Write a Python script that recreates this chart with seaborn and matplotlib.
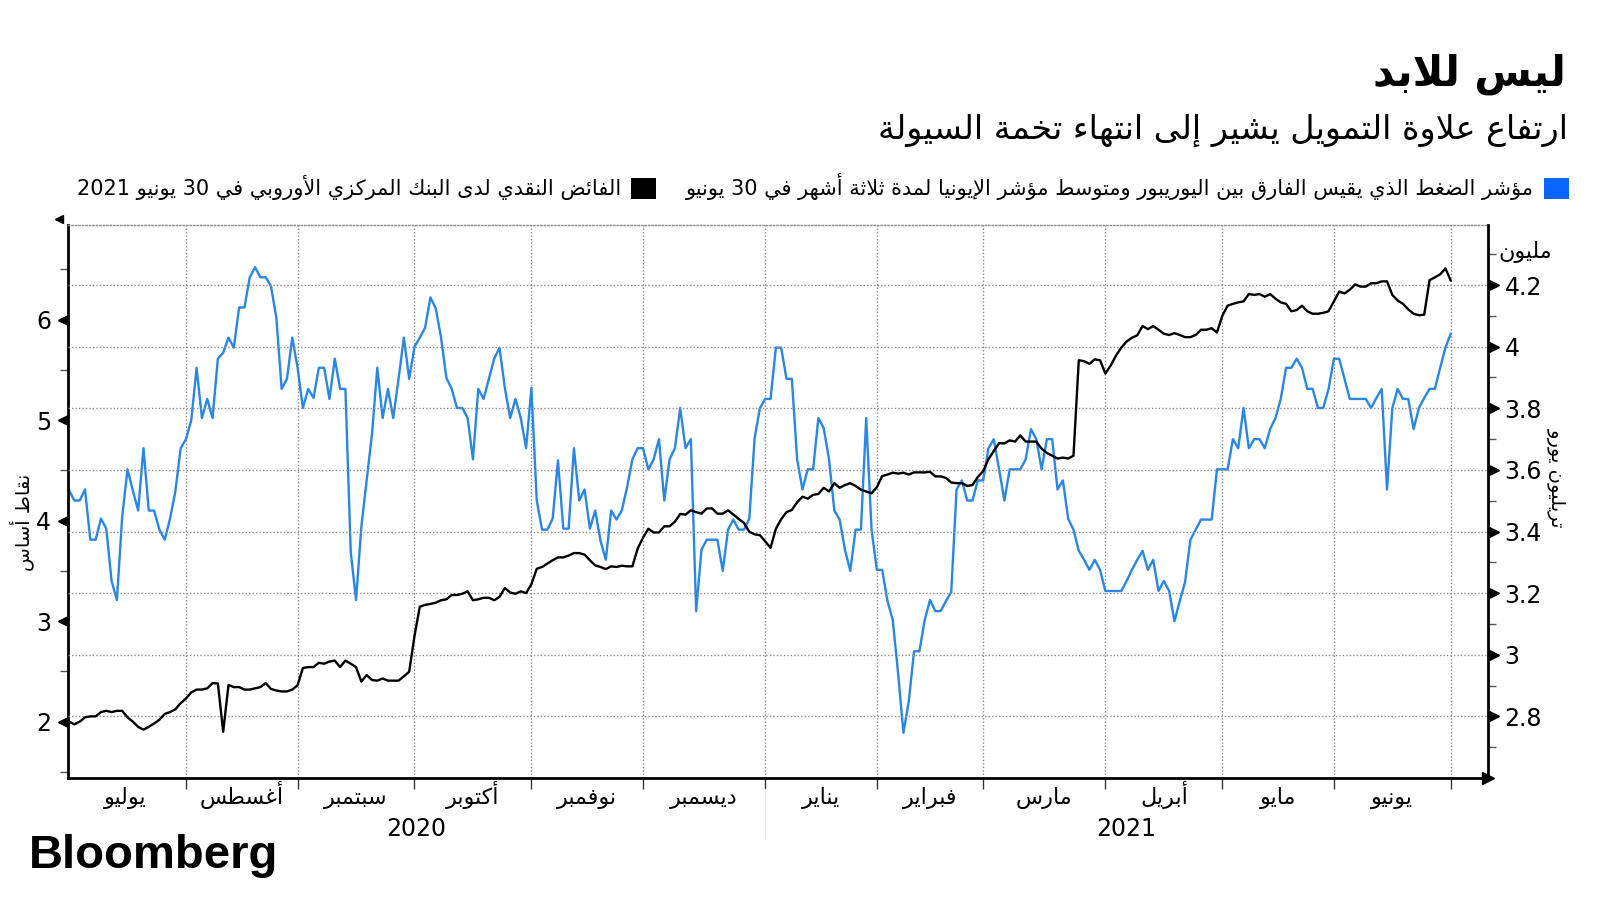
import re
import numpy as np
import pandas as pd
import matplotlib
matplotlib.use("Agg")
import matplotlib.pyplot as plt
import matplotlib.transforms as mtransforms
from matplotlib.patches import Patch
import seaborn as sns

sns.set_style("white")
plt.rcParams["font.family"] = ["DejaVu Sans"]
plt.rcParams["text.color"] = "black"
plt.rcParams["xtick.color"] = "black"
plt.rcParams["ytick.color"] = "black"

# ---------------- data (one value per business day, 2 Jul 2020 -> 1 Jul 2021) ----------------
first_day = "2020-07-01"
last_day = "2021-07-01"

# Euribor - 3m Eonia average spread, basis points (left axis)
spread_bp = [
    4.30, 4.20, 4.20, 4.31, 3.81, 3.81, 4.02, 3.92, 3.40, 3.21,
    4.04, 4.51, 4.30, 4.10, 4.72, 4.10, 4.10, 3.91, 3.81, 4.02,
    4.29, 4.72, 4.81, 5.00, 5.52, 5.02, 5.21, 5.02, 5.61, 5.67,
    5.82, 5.72, 6.12, 6.12, 6.42, 6.52, 6.42, 6.42, 6.33, 6.02,
    5.31, 5.41, 5.82, 5.52, 5.12, 5.31, 5.22, 5.52, 5.52, 5.21,
    5.61, 5.31, 5.31, 3.69, 3.21, 3.94, 4.40, 4.86, 5.52, 5.02,
    5.31, 5.02, 5.41, 5.82, 5.41, 5.73, 5.82, 5.92, 6.22, 6.11,
    5.82, 5.42, 5.31, 5.12, 5.12, 5.02, 4.61, 5.31, 5.21, 5.41,
    5.61, 5.72, 5.32, 5.02, 5.21, 5.02, 4.72, 5.32, 4.20, 3.91,
    3.91, 4.02, 4.60, 3.92, 3.92, 4.72, 4.20, 4.31, 3.92, 4.10,
    3.80, 3.61, 4.10, 4.01, 4.10, 4.33, 4.61, 4.72, 4.72, 4.51,
    4.61, 4.81, 4.20, 4.61, 4.72, 5.12, 4.72, 4.81, 3.10, 3.71,
    3.81, 3.81, 3.81, 3.50, 3.91, 4.01, 3.91, 3.91, 4.02, 4.82,
    5.12, 5.21, 5.21, 5.72, 5.72, 5.41, 5.41, 4.61, 4.31, 4.51,
    4.51, 5.02, 4.92, 4.61, 4.10, 4.01, 3.71, 3.50, 3.91, 3.91,
    5.02, 3.91, 3.51, 3.51, 3.20, 3.01, 2.48, 1.89, 2.20, 2.70,
    2.70, 3.01, 3.21, 3.10, 3.10, 3.20, 3.29, 4.31, 4.40, 4.20,
    4.20, 4.40, 4.40, 4.72, 4.81, 4.51, 4.20, 4.51, 4.51, 4.51,
    4.61, 4.91, 4.81, 4.51, 4.81, 4.81, 4.31, 4.40, 4.02, 3.91,
    3.70, 3.61, 3.51, 3.61, 3.51, 3.30, 3.30, 3.30, 3.30, 3.40,
    3.51, 3.61, 3.70, 3.51, 3.61, 3.30, 3.40, 3.30, 3.00, 3.20,
    3.39, 3.81, 3.91, 4.01, 4.01, 4.01, 4.51, 4.51, 4.51, 4.81,
    4.72, 5.12, 4.72, 4.81, 4.81, 4.72, 4.91, 5.02, 5.21, 5.52,
    5.52, 5.61, 5.52, 5.31, 5.31, 5.12, 5.12, 5.31, 5.61, 5.61,
    5.41, 5.21, 5.21, 5.21, 5.21, 5.12, 5.22, 5.31, 4.31, 5.12,
    5.31, 5.21, 5.21, 4.91, 5.12, 5.22, 5.31, 5.31, 5.52, 5.72, 5.86,
]

# ECB excess liquidity, trillion euros (right axis)
excess_liq = [
    2.783, 2.774, 2.783, 2.797, 2.800, 2.800, 2.814, 2.818, 2.814, 2.818,
    2.818, 2.797, 2.783, 2.766, 2.757, 2.766, 2.777, 2.789, 2.808, 2.814,
    2.823, 2.843, 2.858, 2.878, 2.887, 2.887, 2.891, 2.908, 2.907, 2.750,
    2.902, 2.895, 2.895, 2.887, 2.887, 2.891, 2.895, 2.908, 2.889, 2.884,
    2.881, 2.881, 2.887, 2.901, 2.957, 2.960, 2.960, 2.974, 2.971, 2.978,
    2.981, 2.960, 2.981, 2.971, 2.960, 2.913, 2.934, 2.918, 2.916, 2.923,
    2.916, 2.916, 2.916, 2.930, 2.945, 3.061, 3.156, 3.162, 3.165, 3.169,
    3.177, 3.180, 3.194, 3.194, 3.198, 3.206, 3.177, 3.180, 3.185, 3.185,
    3.177, 3.188, 3.217, 3.202, 3.198, 3.206, 3.200, 3.229, 3.279, 3.285,
    3.296, 3.307, 3.316, 3.316, 3.322, 3.330, 3.330, 3.325, 3.307, 3.290,
    3.285, 3.278, 3.287, 3.285, 3.289, 3.287, 3.287, 3.345, 3.380, 3.409,
    3.397, 3.397, 3.417, 3.417, 3.432, 3.457, 3.455, 3.469, 3.463, 3.458,
    3.475, 3.475, 3.458, 3.458, 3.469, 3.455, 3.441, 3.428, 3.399, 3.391,
    3.388, 3.368, 3.347, 3.409, 3.440, 3.463, 3.470, 3.495, 3.513, 3.507,
    3.519, 3.522, 3.542, 3.530, 3.557, 3.542, 3.551, 3.557, 3.548, 3.536,
    3.530, 3.524, 3.544, 3.580, 3.585, 3.591, 3.588, 3.591, 3.585, 3.592,
    3.592, 3.592, 3.594, 3.579, 3.579, 3.574, 3.559, 3.557, 3.557, 3.548,
    3.551, 3.577, 3.596, 3.635, 3.661, 3.687, 3.686, 3.696, 3.692, 3.712,
    3.692, 3.692, 3.692, 3.669, 3.655, 3.646, 3.637, 3.640, 3.637, 3.646,
    3.956, 3.953, 3.944, 3.959, 3.956, 3.913, 3.939, 3.971, 3.997, 4.017,
    4.029, 4.037, 4.067, 4.057, 4.067, 4.055, 4.042, 4.038, 4.044, 4.038,
    4.031, 4.031, 4.038, 4.055, 4.055, 4.060, 4.046, 4.100, 4.133, 4.139,
    4.144, 4.147, 4.171, 4.168, 4.171, 4.162, 4.171, 4.156, 4.144, 4.139,
    4.115, 4.119, 4.133, 4.115, 4.107, 4.107, 4.110, 4.115, 4.147, 4.179,
    4.173, 4.185, 4.202, 4.195, 4.195, 4.206, 4.206, 4.212, 4.212, 4.168,
    4.150, 4.139, 4.121, 4.107, 4.102, 4.104, 4.216, 4.225, 4.235, 4.254, 4.214,
]

month_names = ["يوليو", "أغسطس", "سبتمبر", "أكتوبر", "نوفمبر", "ديسمبر",
               "يناير", "فبراير", "مارس", "أبريل", "مايو", "يونيو"]
year_labels = ["2020", "2021"]
left_ticks = [2, 3, 4, 5, 6]
right_ticks = [2.8, 3.0, 3.2, 3.4, 3.6, 3.8, 4.0, 4.2]

title = "ليس للابد"
subtitle = "ارتفاع علاوة التمويل يشير إلى انتهاء تخمة السيولة"
legend_blue = "مؤشر الضغط الذي يقيس الفارق بين اليوريبور ومتوسط مؤشر الإيونيا لمدة ثلاثة أشهر في 30 يونيو"
legend_black = "الفائض النقدي لدى البنك المركزي الأوروبي في 30 يونيو 2021"
left_label = "نقاط أساس"
right_label = "تريليون يورو"
unit_label = "مليون"


# ---------------- minimal Arabic shaping (matplotlib has no RTL support) ----------------
_forms = [("ء", 0xFE80, 1), ("آ", 0xFE81, 2), ("أ", 0xFE83, 2), ("ؤ", 0xFE85, 2),
          ("إ", 0xFE87, 2), ("ئ", 0xFE89, 4), ("ا", 0xFE8D, 2), ("ب", 0xFE8F, 4),
          ("ة", 0xFE93, 2), ("ت", 0xFE95, 4), ("ث", 0xFE99, 4), ("ج", 0xFE9D, 4),
          ("ح", 0xFEA1, 4), ("خ", 0xFEA5, 4), ("د", 0xFEA9, 2), ("ذ", 0xFEAB, 2),
          ("ر", 0xFEAD, 2), ("ز", 0xFEAF, 2), ("س", 0xFEB1, 4), ("ش", 0xFEB5, 4),
          ("ص", 0xFEB9, 4), ("ض", 0xFEBD, 4), ("ط", 0xFEC1, 4), ("ظ", 0xFEC5, 4),
          ("ع", 0xFEC9, 4), ("غ", 0xFECD, 4), ("ف", 0xFED1, 4), ("ق", 0xFED5, 4),
          ("ك", 0xFED9, 4), ("ل", 0xFEDD, 4), ("م", 0xFEE1, 4), ("ن", 0xFEE5, 4),
          ("ه", 0xFEE9, 4), ("و", 0xFEED, 2), ("ى", 0xFEEF, 2), ("ي", 0xFEF1, 4)]
AR = {c: (base, n) for c, base, n in _forms}
LAM_ALEF = {"آ": 0xFEF5, "أ": 0xFEF7, "إ": 0xFEF9, "ا": 0xFEFB}


def _jtype(tok):
    if isinstance(tok, tuple):
        return "R"
    if tok in AR:
        return {4: "D", 2: "R", 1: "U"}[AR[tok][1]]
    return "U"


def ar(text):
    toks, i = [], 0
    while i < len(text):
        c = text[i]
        if c == "ل" and i + 1 < len(text) and text[i + 1] in LAM_ALEF:
            toks.append(("LA", text[i + 1]))
            i += 2
        else:
            toks.append(c)
            i += 1
    out = []
    for k, t in enumerate(toks):
        prev = toks[k - 1] if k > 0 else None
        nxt = toks[k + 1] if k + 1 < len(toks) else None
        jp = prev is not None and _jtype(prev) == "D" and _jtype(t) in "DR"
        jn = nxt is not None and _jtype(t) == "D" and _jtype(nxt) in "DR"
        if isinstance(t, tuple):
            out.append(chr(LAM_ALEF[t[1]] + int(jp)))
        elif t in AR:
            base, n = AR[t]
            if n == 1:
                f = 0
            elif n == 2:
                f = int(jp)
            else:
                f = {(False, False): 0, (True, False): 1, (False, True): 2, (True, True): 3}[(jp, jn)]
            out.append(chr(base + f))
        else:
            out.append(t)
    s = "".join(out)[::-1]
    return re.sub(r"[0-9A-Za-z.,]+", lambda m: m.group(0)[::-1], s)


# ---------------- frame ----------------
cal = pd.bdate_range(first_day, last_day)
pos = np.arange(len(cal))
month_edges = [0] + list(pos[cal.month != np.roll(cal.month, 1)])
month_centers = [(a + b) / 2 for a, b in zip(month_edges[:-1], month_edges[1:])]
jan_pos = pos[(cal.year == 2021)][0]

df = pd.DataFrame({
    "day": np.arange(1, len(spread_bp) + 1),
    "spread": spread_bp,
    "excess": excess_liq,
})

BLUE = "#2a86e3"
GRID = "#8c8c8c"

fig = plt.figure(figsize=(16, 9), dpi=100)
ax = fig.add_axes([68 / 1600, 1 - 778 / 900, (1488 - 68) / 1600, (778 - 225) / 900])
sns.lineplot(data=df, x="day", y="spread", ax=ax, color=BLUE, linewidth=1.7)
ax2 = ax.twinx()
sns.lineplot(data=df, x="day", y="excess", ax=ax2, color="black", linewidth=1.7)

x_right = 268.0
ax.set_xlim(0.8, x_right)
ax.set_ylim(1.44, 6.94)
ax2.set_ylim(2.60, 4.395)
for a in (ax, ax2):
    a.set_xlabel("")
    a.set_ylabel("")

# x axis: month boundaries as gridlines/ticks, names in between
ax.set_xticks(month_edges[1:])
ax.set_xticklabels([])
ax.set_xticks(month_centers, minor=True)
ax.set_xticklabels([ar(m) for m in month_names], minor=True, fontsize=16)
for lab in ax.get_xticklabels(minor=True):
    lab.set_verticalalignment("baseline")
ax.tick_params(axis="x", which="major", length=8, width=1, color="#333333", direction="out", bottom=True)
ax.tick_params(axis="x", which="minor", length=0, pad=19)
ax.grid(axis="x", which="major", color=GRID, linestyle=(0, (1, 1.5)), linewidth=1)

# left axis
ax.set_yticks(left_ticks)
ax.set_yticks(np.arange(1.5, 7.0, 1.0), minor=True)
ax.tick_params(axis="y", which="major", length=0, pad=12, labelsize=17, left=True)
ax.tick_params(axis="y", which="minor", length=6, width=1, color="#555555", left=True)

# right axis
ax2.set_yticks(right_ticks)
ax2.set_yticklabels([f"{v:g}" for v in right_ticks])
ax2.set_yticks(np.arange(2.7, 4.4, 0.2), minor=True)
ax2.tick_params(axis="y", which="major", length=0, pad=12, labelsize=17, right=True)
ax2.tick_params(axis="y", which="minor", length=6, width=1, color="#555555", right=True)
ax2.grid(axis="y", which="major", color=GRID, linestyle=(0, (1, 1.5)), linewidth=1)

# spines
for s in ("left", "bottom"):
    ax.spines[s].set_color("black")
    ax.spines[s].set_linewidth(2)
ax.spines["right"].set_visible(False)
ax.spines["top"].set_color(GRID)
ax.spines["top"].set_linestyle((0, (1, 1.5)))
ax.spines["top"].set_linewidth(1)
for s in ("left", "bottom", "top"):
    ax2.spines[s].set_visible(False)
ax2.spines["right"].set_color("black")
ax2.spines["right"].set_linewidth(2)

# triangle tick markers and axis arrows
tl = mtransforms.offset_copy(ax.get_yaxis_transform(), fig=fig, x=-5, y=0, units="dots")
ax.plot([0] * len(left_ticks), left_ticks, ls="none", marker="<", ms=7, color="black",
        transform=tl, clip_on=False)
tr = mtransforms.offset_copy(ax2.get_yaxis_transform(), fig=fig, x=6, y=0, units="dots")
ax2.plot([1] * len(right_ticks), right_ticks, ls="none", marker=">", ms=7, color="black",
         transform=tr, clip_on=False)
ax.plot([1], [0], ls="none", marker=">", ms=8, color="black", transform=ax.transAxes, clip_on=False)
ax.plot([-0.006], [1.01], ls="none", marker="<", ms=6, color="black", transform=ax.transAxes, clip_on=False)

# years under the months
ty = ax.get_xaxis_transform()
ax.text((0.8 + jan_pos) / 2, -0.092, year_labels[0], transform=ty, ha="center", va="center", fontsize=17)
ax.text((jan_pos + x_right) / 2, -0.092, year_labels[1], transform=ty, ha="center", va="center", fontsize=17)
ax.plot([jan_pos, jan_pos], [-0.02, -0.11], color="#e6e6e6", lw=1, transform=ty, clip_on=False)

# axis labels
fig.text(22 / 1600, 1 - 522 / 900, ar(left_label), rotation=90, ha="center", va="center", fontsize=14)
fig.text(1556 / 1600, 1 - 478 / 900, ar(right_label), rotation=270, ha="center", va="center", fontsize=14)
fig.text(1525 / 1600, 1 - 252 / 900, ar(unit_label), ha="center", va="center", fontsize=16)

# title block
fig.text(1566 / 1600, 1 - 74 / 900, ar(title), ha="right", va="center", fontsize=30, weight="bold")
fig.text(1568 / 1600, 1 - 130 / 900, ar(subtitle), ha="right", va="center", fontsize=24)

handles = [Patch(facecolor="black", edgecolor="none"), Patch(facecolor="#0a66ff", edgecolor="none")]
fig.legend(handles, [ar(legend_black), ar(legend_blue)], ncol=2, markerfirst=False,
           loc="center right", bbox_to_anchor=(1569 / 1600, 1 - 187 / 900), frameon=False,
           fontsize=15, handlelength=1.2, handleheight=1.2, handletextpad=0.5,
           columnspacing=1.4, borderpad=0, borderaxespad=0)

fig.text(29 / 1600, 1 - 868 / 900, "Bloomberg", ha="left", va="baseline", fontsize=34,
         weight="bold", family=["Liberation Sans", "DejaVu Sans"], color="black")

fig.savefig("out.png", dpi=100, facecolor="white")
